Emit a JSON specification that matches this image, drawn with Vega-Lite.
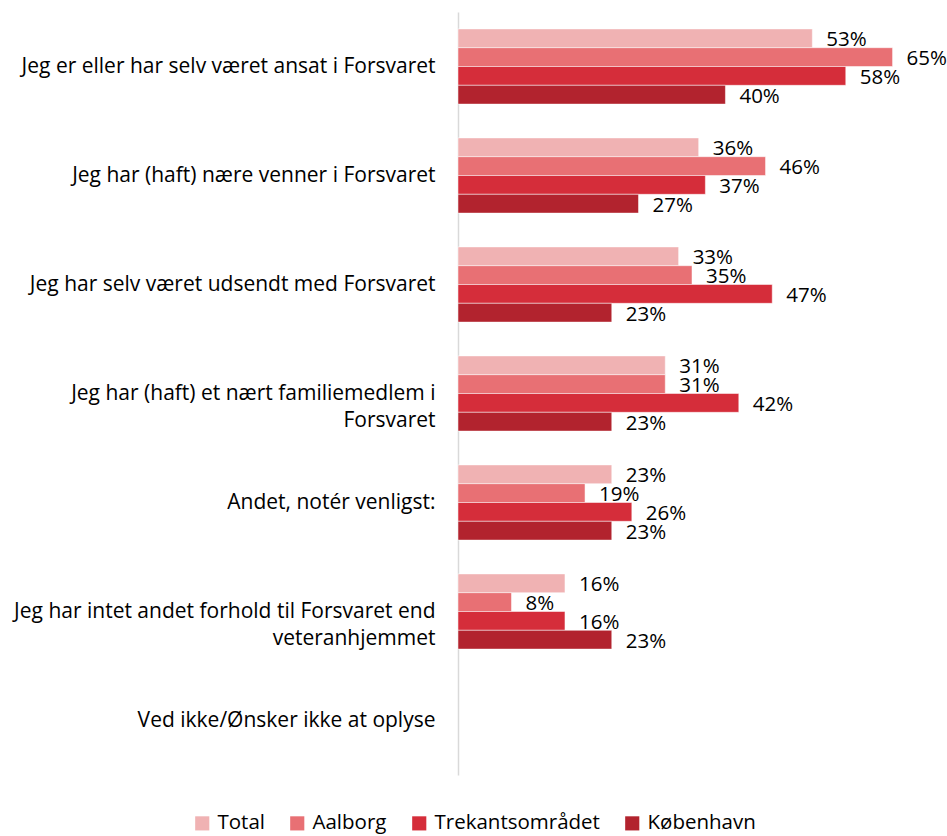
{
  "$schema": "https://vega.github.io/schema/vega-lite/v6.json",
  "width": 468,
  "height": 763,
  "autosize": "none",
  "padding": {"left": 458, "top": 12, "right": 21, "bottom": 61},
  "config": {"view": {"stroke": null}, "font": "Open Sans"},
  "data": {
    "values": [
      {"cat": "Jeg er eller har selv været ansat i Forsvaret", "series": "Total", "value": 0.53},
      {"cat": "Jeg er eller har selv været ansat i Forsvaret", "series": "Aalborg", "value": 0.65},
      {"cat": "Jeg er eller har selv været ansat i Forsvaret", "series": "Trekantsområdet", "value": 0.58},
      {"cat": "Jeg er eller har selv været ansat i Forsvaret", "series": "København", "value": 0.40},
      {"cat": "Jeg har (haft) nære venner i Forsvaret", "series": "Total", "value": 0.36},
      {"cat": "Jeg har (haft) nære venner i Forsvaret", "series": "Aalborg", "value": 0.46},
      {"cat": "Jeg har (haft) nære venner i Forsvaret", "series": "Trekantsområdet", "value": 0.37},
      {"cat": "Jeg har (haft) nære venner i Forsvaret", "series": "København", "value": 0.27},
      {"cat": "Jeg har selv været udsendt med Forsvaret", "series": "Total", "value": 0.33},
      {"cat": "Jeg har selv været udsendt med Forsvaret", "series": "Aalborg", "value": 0.35},
      {"cat": "Jeg har selv været udsendt med Forsvaret", "series": "Trekantsområdet", "value": 0.47},
      {"cat": "Jeg har selv været udsendt med Forsvaret", "series": "København", "value": 0.23},
      {"cat": "Jeg har (haft) et nært familiemedlem i Forsvaret", "series": "Total", "value": 0.31},
      {"cat": "Jeg har (haft) et nært familiemedlem i Forsvaret", "series": "Aalborg", "value": 0.31},
      {"cat": "Jeg har (haft) et nært familiemedlem i Forsvaret", "series": "Trekantsområdet", "value": 0.42},
      {"cat": "Jeg har (haft) et nært familiemedlem i Forsvaret", "series": "København", "value": 0.23},
      {"cat": "Andet, notér venligst:", "series": "Total", "value": 0.23},
      {"cat": "Andet, notér venligst:", "series": "Aalborg", "value": 0.19},
      {"cat": "Andet, notér venligst:", "series": "Trekantsområdet", "value": 0.26},
      {"cat": "Andet, notér venligst:", "series": "København", "value": 0.23},
      {"cat": "Jeg har intet andet forhold til Forsvaret end veteranhjemmet", "series": "Total", "value": 0.16},
      {"cat": "Jeg har intet andet forhold til Forsvaret end veteranhjemmet", "series": "Aalborg", "value": 0.08},
      {"cat": "Jeg har intet andet forhold til Forsvaret end veteranhjemmet", "series": "Trekantsområdet", "value": 0.16},
      {"cat": "Jeg har intet andet forhold til Forsvaret end veteranhjemmet", "series": "København", "value": 0.23}
    ]
  },
  "encoding": {
    "y": {
      "field": "cat",
      "type": "nominal",
      "sort": null,
      "scale": {
        "domain": [
          "Jeg er eller har selv været ansat i Forsvaret",
          "Jeg har (haft) nære venner i Forsvaret",
          "Jeg har selv været udsendt med Forsvaret",
          "Jeg har (haft) et nært familiemedlem i Forsvaret",
          "Andet, notér venligst:",
          "Jeg har intet andet forhold til Forsvaret end veteranhjemmet",
          "Ved ikke/Ønsker ikke at oplyse"
        ],
        "paddingInner": 0.31,
        "paddingOuter": 0.155
      },
      "axis": {
        "title": null,
        "ticks": false,
        "domainColor": "#D9D9D9",
        "domainWidth": 1.5,
        "labelFontSize": 21,
        "labelColor": "#000000",
        "labelPadding": 23,
        "labelLimit": 500,
        "labelLineHeight": 27,
        "labelExpr": "datum.value == 'Jeg har (haft) et nært familiemedlem i Forsvaret' ? ['Jeg har (haft) et nært familiemedlem i', 'Forsvaret'] : datum.value == 'Jeg har intet andet forhold til Forsvaret end veteranhjemmet' ? ['Jeg har intet andet forhold til Forsvaret end', 'veteranhjemmet'] : datum.value"
      }
    },
    "yOffset": {
      "field": "series",
      "type": "nominal",
      "sort": ["Total", "Aalborg", "Trekantsområdet", "København"],
      "scale": {"paddingInner": 0, "paddingOuter": 0}
    },
    "x": {
      "field": "value",
      "type": "quantitative",
      "scale": {"domain": [0, 0.7], "nice": false},
      "axis": null
    }
  },
  "layer": [
    {
      "mark": {"type": "bar", "stroke": "white", "strokeWidth": 0.5},
      "encoding": {
        "color": {
          "field": "series",
          "type": "nominal",
          "sort": ["Total", "Aalborg", "Trekantsområdet", "København"],
          "scale": {
            "domain": ["Total", "Aalborg", "Trekantsområdet", "København"],
            "range": ["#F0B2B3", "#E87074", "#D52D3A", "#B2232E"]
          },
          "legend": {
            "title": null,
            "orient": "none",
            "direction": "horizontal",
            "legendX": -266,
            "legendY": 801,
            "symbolType": "square",
            "symbolSize": 200,
            "symbolStrokeWidth": 0,
            "labelFontSize": 20.5,
            "labelColor": "#000000",
            "labelLimit": 400,
            "columnPadding": 22,
            "labelOffset": 5
          }
        }
      }
    },
    {
      "mark": {"type": "text", "align": "left", "dx": 14, "dy": 2, "fontSize": 20.5, "color": "#000000"},
      "encoding": {
        "text": {"field": "value", "type": "quantitative", "format": ".0%"}
      }
    }
  ]
}
